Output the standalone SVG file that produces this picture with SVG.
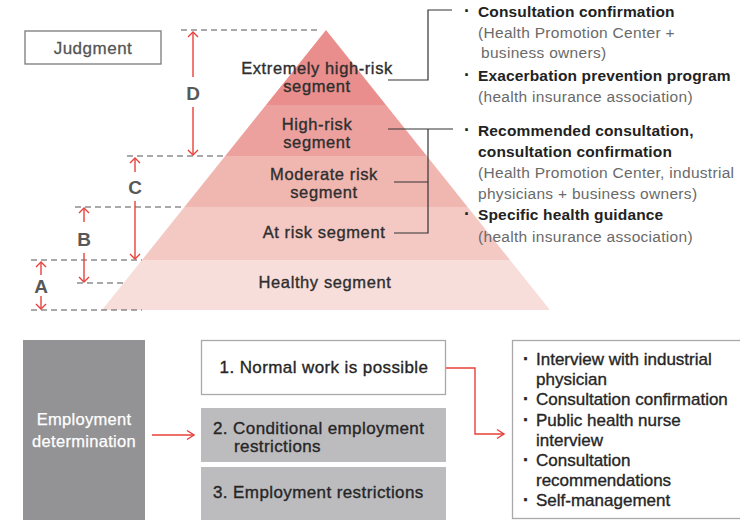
<svg xmlns="http://www.w3.org/2000/svg" width="740" height="520" viewBox="0 0 740 520">
  <defs>
    <style>
      text { font-family: "Liberation Sans", Arial, sans-serif; }
      .seg { font-size: 16.5px; fill: #2e2e2e; stroke: #2e2e2e; stroke-width: 0.35px; text-anchor: middle; letter-spacing: 0.6px; }
      .lvl { font-size: 19px; font-weight: bold; fill: #585858; text-anchor: middle; }
      .dash { stroke: #555; stroke-width: 1.2; stroke-dasharray: 6 4; fill: none; }
      .dim { stroke: #e8403a; stroke-width: 1.4; fill: none; marker-end: url(#chev); }
      .brk { stroke: #333; stroke-width: 1.2; fill: none; }
      .hd { font-size: 15.5px; font-weight: bold; fill: #222; letter-spacing: 0.15px; }
      .sub { font-size: 15.5px; fill: #6a6a6a; letter-spacing: 0.3px; }
      .box { font-size: 17px; fill: #262626; stroke: #262626; stroke-width: 0.35px; letter-spacing: 0.4px; }
      .lst { font-size: 17px; fill: #262626; stroke: #262626; stroke-width: 0.35px; }
      .bul { font-weight: bold; font-size: 18px; }
      .flow { stroke: #e8403a; stroke-width: 1.4; fill: none; }
    </style>
    <marker id="chev" viewBox="-6 -6 8 12" markerWidth="8" markerHeight="12" markerUnits="userSpaceOnUse" orient="auto" refX="0" refY="0">
      <path d="M-5,-5 L0,0 L-5,5" fill="none" stroke="#e8403a" stroke-width="1.4"/>
    </marker>
    <marker id="chevL" viewBox="-9 -6 11 12" markerWidth="11" markerHeight="12" markerUnits="userSpaceOnUse" orient="auto" refX="0" refY="0">
      <path d="M-7,-4.5 L0,0 L-7,4.5" fill="none" stroke="#e8403a" stroke-width="1.4"/>
    </marker>
  </defs>

  <rect width="740" height="520" fill="#ffffff"/>

  <!-- Judgment label -->
  <g id="judgment">
    <rect x="25" y="31" width="136" height="33" fill="#fff" stroke="#7a7a7a" stroke-width="1.3"/>
    <text x="93" y="53.5" font-size="17" fill="#555" stroke="#555" stroke-width="0.3" text-anchor="middle" letter-spacing="0.5">Judgment</text>
  </g>

  <!-- Pyramid bands, top to bottom -->
  <g id="seg-extreme">
    <polygon points="326,30 386,105 266,105" fill="#e98e8c"/>
    <text class="seg" x="317" y="74">Extremely high-risk</text>
    <text class="seg" x="317" y="92">segment</text>
  </g>
  <g id="seg-high">
    <polygon points="266,105 386,105 426.8,156 225.2,156" fill="#eca19e"/>
    <text class="seg" x="317" y="130">High-risk</text>
    <text class="seg" x="317" y="148">segment</text>
  </g>
  <g id="seg-moderate">
    <polygon points="225.2,156 426.8,156 467.6,207 184.4,207" fill="#f0b6b0"/>
    <text class="seg" x="324" y="180">Moderate risk</text>
    <text class="seg" x="324" y="198">segment</text>
  </g>
  <g id="seg-atrisk">
    <polygon points="184.4,207 467.6,207 510,260 142,260" fill="#f4c9c4"/>
    <text class="seg" x="324" y="238">At risk segment</text>
  </g>
  <g id="seg-healthy">
    <polygon points="142,260 510,260 550,310 102,310" fill="#f8dedb"/>
    <text class="seg" x="325" y="288">Healthy segment</text>
  </g>

  <!-- Level guides and range arrows -->
  <g id="levels">
    <line class="dash" x1="181" y1="30" x2="320" y2="30"/>
    <line class="dash" x1="127" y1="156" x2="225" y2="156"/>
    <line class="dash" x1="75" y1="207" x2="184" y2="207"/>
    <line class="dash" x1="31" y1="260" x2="142" y2="260"/>
    <line class="dash" x1="77" y1="283" x2="124" y2="283"/>
    <line class="dash" x1="31" y1="310" x2="142" y2="310"/>

    <line class="dim" x1="193" y1="77" x2="193" y2="32"/>
    <line class="dim" x1="193" y1="107" x2="193" y2="155"/>
    <text class="lvl" x="193" y="100">D</text>

    <line class="dim" x1="135" y1="172" x2="135" y2="158"/>
    <line class="dim" x1="135" y1="201" x2="135" y2="259"/>
    <text class="lvl" x="135" y="194">C</text>

    <line class="dim" x1="84" y1="222" x2="84" y2="208"/>
    <line class="dim" x1="84" y1="253" x2="84" y2="282"/>
    <text class="lvl" x="84" y="246">B</text>

    <line class="dim" x1="41" y1="275" x2="41" y2="262"/>
    <line class="dim" x1="41" y1="296" x2="41" y2="309"/>
    <text class="lvl" x="41" y="293">A</text>
  </g>

  <!-- Brackets linking segments to measures -->
  <g id="connectors">
    <polyline class="brk" points="388,80 428,80 428,10 452,10"/>
    <polyline class="brk" points="388,129 453,129"/>
    <polyline class="brk" points="428,129 428,233 394,233"/>
    <polyline class="brk" points="394,182 428,182"/>
    <polyline class="flow" points="446,368 475,368 475,434 504,434" marker-end="url(#chevL)"/>
    <line class="flow" x1="152" y1="435" x2="194" y2="435" marker-end="url(#chevL)"/>
  </g>

  <!-- Measures for the upper segments -->
  <g id="measures-upper">
    <text class="hd"><tspan class="bul" x="464" y="17">·</tspan><tspan x="478" y="17">Consultation confirmation</tspan></text>
    <text class="sub" x="478" y="38">(Health Promotion Center +</text>
    <text class="sub" x="481" y="58">business owners)</text>
    <text class="hd"><tspan class="bul" x="464" y="81">·</tspan><tspan x="478" y="81">Exacerbation prevention program</tspan></text>
    <text class="sub" x="478" y="102">(health insurance association)</text>
  </g>

  <!-- Measures for the middle segments -->
  <g id="measures-middle">
    <text class="hd"><tspan class="bul" x="464" y="136">·</tspan><tspan x="478" y="136">Recommended consultation,</tspan></text>
    <text class="hd" x="478" y="157">consultation confirmation</text>
    <text class="sub" x="478" y="178">(Health Promotion Center, industrial</text>
    <text class="sub" x="478" y="199">physicians + business owners)</text>
    <text class="hd"><tspan class="bul" x="464" y="220">·</tspan><tspan x="478" y="220">Specific health guidance</tspan></text>
    <text class="sub" x="478" y="242">(health insurance association)</text>
  </g>

  <!-- Employment determination -->
  <g id="employment">
    <rect x="23" y="340" width="122" height="185" fill="#939396"/>
    <text x="84" y="425" font-size="16.5" fill="#fff" stroke="#fff" stroke-width="0.25" text-anchor="middle" letter-spacing="0.3">Employment</text>
    <text x="84" y="447" font-size="16.5" fill="#fff" stroke="#fff" stroke-width="0.25" text-anchor="middle" letter-spacing="0.3">determination</text>
  </g>

  <g id="option-1">
    <rect x="201.5" y="340.5" width="244" height="54" fill="#fff" stroke="#a9a9ab" stroke-width="1.3"/>
    <text class="box" x="324" y="373" text-anchor="middle">1. Normal work is possible</text>
  </g>
  <g id="option-2">
    <rect x="201" y="408" width="245" height="54" fill="#bcbcbf"/>
    <text class="box" x="213" y="434">2. Conditional employment</text>
    <text class="box" x="234" y="452">restrictions</text>
  </g>
  <g id="option-3">
    <rect x="201" y="467" width="245" height="60" fill="#bcbcbf"/>
    <text class="box" x="213" y="498">3. Employment restrictions</text>
  </g>

  <!-- Follow-up actions -->
  <g id="actions">
    <rect x="512.5" y="340.5" width="240" height="178" fill="#fff" stroke="#a9a9ab" stroke-width="1.3"/>
    <text class="lst"><tspan class="bul" x="523" y="365">·</tspan><tspan x="536" y="365">Interview with industrial</tspan></text>
    <text class="lst" x="536" y="385">physician</text>
    <text class="lst"><tspan class="bul" x="523" y="405">·</tspan><tspan x="536" y="405">Consultation confirmation</tspan></text>
    <text class="lst"><tspan class="bul" x="523" y="426">·</tspan><tspan x="536" y="426">Public health nurse</tspan></text>
    <text class="lst" x="536" y="446">interview</text>
    <text class="lst"><tspan class="bul" x="523" y="466">·</tspan><tspan x="536" y="466">Consultation</tspan></text>
    <text class="lst" x="536" y="486">recommendations</text>
    <text class="lst"><tspan class="bul" x="523" y="506">·</tspan><tspan x="536" y="506">Self-management</tspan></text>
  </g>
</svg>
